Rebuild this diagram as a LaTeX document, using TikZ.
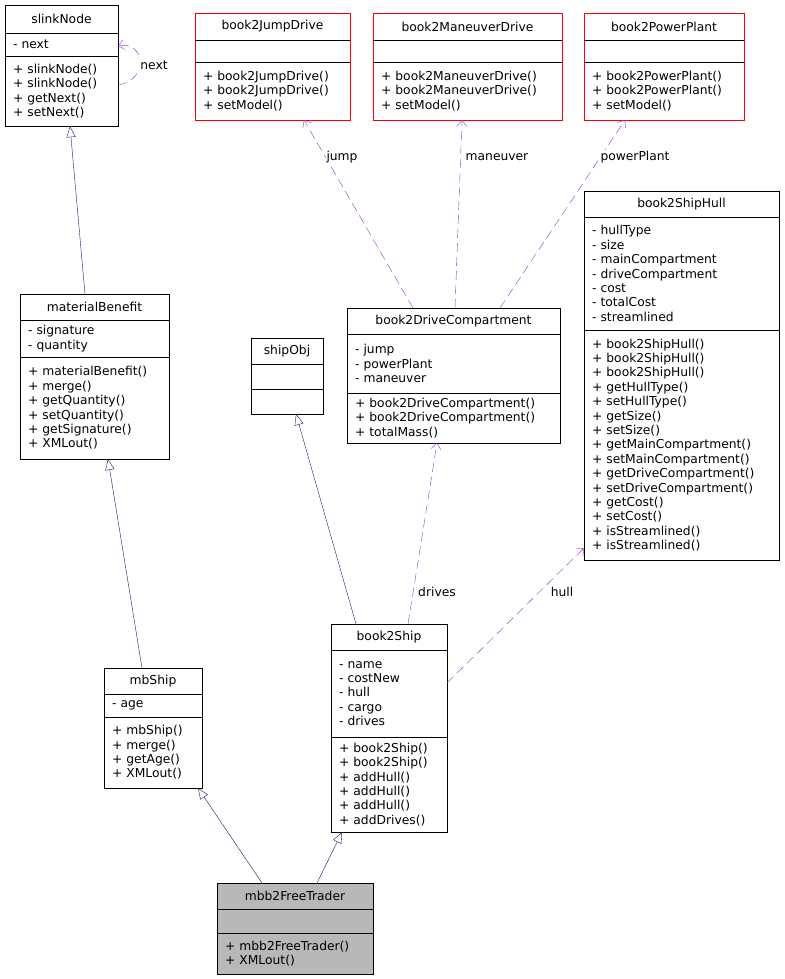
\documentclass[tikz,border=0pt]{standalone}
\usepackage{fontspec}
\setmainfont{DejaVu Sans}
\usetikzlibrary{arrows.meta,fit}
\definecolor{inh}{HTML}{191970}
\definecolor{use}{HTML}{9A32CD}
\tikzset{
  x=1pt,y=-1pt,
  cur/.style={draw=black,fill=white},
  redbox/.style={draw=red,fill=white},
  graybox/.style={draw=black,fill=black!28},
  txt/.style={font=\fontsize{12.3}{14.4}\selectfont,inner sep=0pt},
  inherit/.style={draw=inh,-{Triangle[open,length=11pt,width=9pt]}},
  usage/.style={draw=use,dash pattern=on 9pt off 5pt,-{Straight Barb[length=6pt,width=10pt]}},
  lbl/.style={txt,fill=white,inner sep=1pt},
}
% #1 name #2 x1 #3 x2 #4 ytop #5 ytitle #6 yattr #7 ybot #8 attrs #9 methods
\newcommand\umlcls[9]{%
  \coordinate (#1-nw) at (#2,#4);
  \coordinate (#1-se) at (#3,#7);
  \node[fit=(#1-nw)(#1-se),inner sep=0pt,cur] (#1) {};
  \draw (#2,#5) -- (#3,#5);
  \draw (#2,#6) -- (#3,#6);
  \node[txt] (#1-title) at ({(#2+#3)/2},{(#4+#5)/2}) {#1};
  \node[txt,anchor=west,align=left] (#1-attr) at (#2+8,{(#5+#6)/2}) {#8};
  \node[txt,anchor=west,align=left] (#1-meth) at (#2+8,{(#6+#7)/2}) {#9};
}
\begin{document}
\begin{tikzpicture}
\useasboundingbox[fill=white] (0,0) rectangle (784,979);
\umlcls{slinkNode}{5}{118}{5}{33}{56}{126}{- next}{+ slinkNode()\\+ slinkNode()\\+ getNext()\\+ setNext()}
\tikzset{cur/.style={redbox}}
\umlcls{book2JumpDrive}{195}{350}{13}{40}{62}{120}{}{+ book2JumpDrive()\\+ book2JumpDrive()\\+ setModel()}
\umlcls{book2ManeuverDrive}{373}{562}{13}{40}{62}{120}{}{+ book2ManeuverDrive()\\+ book2ManeuverDrive()\\+ setModel()}
\umlcls{book2PowerPlant}{584}{744}{13}{40}{62}{120}{}{+ book2PowerPlant()\\+ book2PowerPlant()\\+ setModel()}
\tikzset{cur/.style={draw=black,fill=white}}
\umlcls{book2ShipHull}{584}{779}{191}{217}{330}{560}{- hullType\\- size\\- mainCompartment\\- driveCompartment\\- cost\\- totalCost\\- streamlined}{+ book2ShipHull()\\+ book2ShipHull()\\+ book2ShipHull()\\+ getHullType()\\+ setHullType()\\+ getSize()\\+ setSize()\\+ getMainCompartment()\\+ setMainCompartment()\\+ getDriveCompartment()\\+ setDriveCompartment()\\+ getCost()\\+ setCost()\\+ isStreamlined()\\+ isStreamlined()}
\umlcls{materialBenefit}{20}{169}{294}{320}{357}{459}{- signature\\- quantity}{+ materialBenefit()\\+ merge()\\+ getQuantity()\\+ setQuantity()\\+ getSignature()\\+ XMLout()}
\umlcls{shipObj}{251}{323}{338}{364}{389}{414}{}{}
\umlcls{book2DriveCompartment}{347}{560}{308}{334}{393}{443}{- jump\\- powerPlant\\- maneuver}{+ book2DriveCompartment()\\+ book2DriveCompartment()\\+ totalMass()}
\umlcls{book2Ship}{331}{447}{624}{650}{737}{832}{- name\\- costNew\\- hull\\- cargo\\- drives}{+ book2Ship()\\+ book2Ship()\\+ addHull()\\+ addHull()\\+ addHull()\\+ addDrives()}
\umlcls{mbShip}{104}{202}{668}{694}{717}{788}{- age}{+ mbShip()\\+ merge()\\+ getAge()\\+ XMLout()}
\tikzset{cur/.style={graybox}}
\umlcls{mbb2FreeTrader}{217}{373}{883}{909}{933}{974}{}{+ mbb2FreeTrader()\\+ XMLout()}
% inheritance
\draw[inherit] (materialBenefit.north) ++(0,0) coordinate (a1) (85,294) -- (slinkNode.south -| 70,0);
\draw[inherit] (142,668) -- (108,459);
\draw[inherit] (356,624) -- (296,414);
\draw[inherit] (262,883) -- (198,788);
\draw[inherit] (317,883) -- (342,832);
% usage
\draw[usage] (118,85) .. controls (150,80) and (145,40) .. (118,46);
\node[lbl] (l0) at (154,65) {next};
\draw[usage] (413,308) -- (304,120);
\node[lbl] (l1) at (342,157) {jump};
\draw[usage] (455,308) -- (462,120);
\node[lbl] (l2) at (497,157) {maneuver};
\draw[usage] (500,308) -- (625,120);
\node[lbl] (l3) at (635,157) {powerPlant};
\draw[usage] (408,624) -- (437,443);
\node[lbl] (l4) at (437,592) {drives};
\draw[usage] (447,683) -- (584,548);
\node[lbl] (l5) at (562,592) {hull};
\end{tikzpicture}
\end{document}
